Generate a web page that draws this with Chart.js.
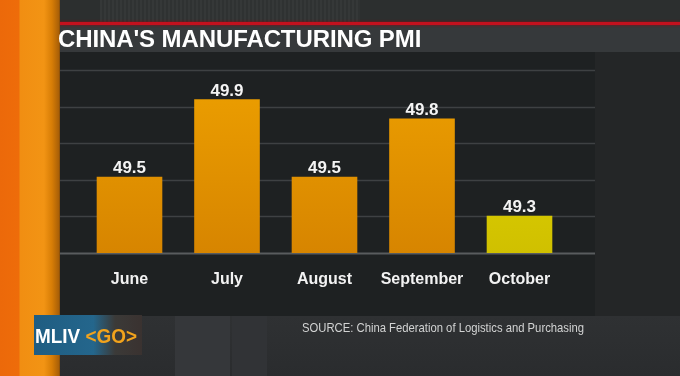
<!DOCTYPE html>
<html>
<head>
<meta charset="utf-8">
<script src="https://cdn.jsdelivr.net/npm/chart.js@4"></script>
<style>
  html, body { margin: 0; padding: 0; background: #2a2c2d; }
  #stage { position: relative; width: 680px; height: 376px; overflow: hidden; background: #262829; font-family: "Liberation Sans", Arial, sans-serif; }
  .blk { position: absolute; }
  #topband { left: 0; top: 0; width: 680px; height: 22px; background: #2c2f2f; }
  #texture { left: 100px; top: 0; width: 260px; height: 22px; background: repeating-linear-gradient(90deg, #353838 0 2px, #2f3232 2px 4px); }
  #redline { left: 54px; top: 22px; width: 626px; height: 3px; background: #c3111e; box-shadow: 0 0 3px #8a0a12; }
  #titleband { left: 54px; top: 25px; width: 626px; height: 27px; background: #36393b; }
  #panel { left: 60px; top: 52px; width: 535px; height: 264px; background: #1e2122; }
  #rightside { left: 595px; top: 52px; width: 85px; height: 264px; background: #242627; }
  #bottomband { left: 0; top: 316px; width: 680px; height: 60px; background: linear-gradient(180deg, #2f3133, #2a2c2e); }
  #stripe1 { left: 175px; top: 316px; width: 55px; height: 60px; background: #35373a; }
  #stripe2 { left: 232px; top: 316px; width: 35px; height: 60px; background: #313336; }
  #orange { left: 0; top: 0; width: 60px; height: 376px; background: linear-gradient(90deg, #ec690a 0, #ee6c0a 19px, #f18e12 20px, #f29414 44px, #d77d06 52px, #a85f08 59px, #7a4608 60px); }
  #title { left: 58px; top: 27px; font-size: 24px; line-height: 24px; font-weight: bold; color: #ffffff; white-space: nowrap; letter-spacing: -0.1px; }
  #source { left: 302px; top: 321px; font-size: 13px; line-height: 13px; color: #d2d3d3; white-space: nowrap; transform-origin: 0 0; }
  #logo { left: 34px; top: 315px; width: 108px; height: 40px; background: linear-gradient(90deg, #1f5d82 0, #24668c 55%, #3b3a38 75%, #3a3230 100%); }
  #logotext { left: 35px; top: 325px; font-weight: bold; font-size: 21px; line-height: 21px; color: #ffffff; white-space: nowrap; transform-origin: 0 0; }
  #logotext span { color: #f2a31c; }
  canvas { position: absolute; left: 0; top: 0; }
</style>
</head>
<body>
<div id="stage">
  <div class="blk" id="topband"></div>
  <div class="blk" id="texture"></div>
  <div class="blk" id="bottomband"></div>
  <div class="blk" id="stripe1"></div>
  <div class="blk" id="stripe2"></div>
  <div class="blk" id="rightside"></div>
  <div class="blk" id="panel"></div>
  <div class="blk" id="titleband"></div>
  <div class="blk" id="redline"></div>
  <div class="blk" id="orange"></div>
  <div class="blk" id="logo"></div>
  <canvas id="pmiChart" width="680" height="376"></canvas>
  <div class="blk" id="title">CHINA'S MANUFACTURING PMI</div>
  <div class="blk" id="source">SOURCE: China Federation of Logistics and Purchasing</div>
  <div class="blk" id="logotext">MLIV <span>&lt;GO&gt;</span></div>
</div>
<script>
// chart data
const months = ['June', 'July', 'August', 'September', 'October'];
const pmiValues = [49.5, 49.9, 49.5, 49.8, 49.3];
const axisMin = 49.108;
const axisMax = 50.05;
const gridSteps = 5;

// narrow fonts are not installed, so squeeze the broadcast captions
function squeeze(id, targetWidth) {
    const el = document.getElementById(id);
    const w = el.getBoundingClientRect().width;
    if (w > 0) el.style.transform = 'scaleX(' + (targetWidth / w) + ')';
}

document.addEventListener('DOMContentLoaded', function () {
    squeeze('source', 282);
    squeeze('logotext', 102);

    const ctx = document.getElementById('pmiChart').getContext('2d');
    const lastIndex = pmiValues.length - 1;

    function barFill(context) {
        const chart = context.chart;
        const area = chart.chartArea;
        const latest = context.dataIndex === lastIndex;
        if (!area) return latest ? '#d6cc00' : '#e49300';
        const g = chart.ctx.createLinearGradient(0, area.top, 0, area.bottom);
        if (latest) {
            g.addColorStop(0, '#e4dc00');
            g.addColorStop(1, '#d0c000');
        } else {
            g.addColorStop(0, '#eda000');
            g.addColorStop(1, '#d78500');
        }
        return g;
    }

    // gridlines run across the whole dark panel, wider than the bar area
    const panelGrid = {
        id: 'panelGrid',
        beforeDatasetsDraw(chart) {
            const y = chart.scales.y;
            const c = chart.ctx;
            c.save();
            y.ticks.forEach(function (t, i) {
                const py = Math.round(y.getPixelForValue(t.value)) + 0.5;
                const base = i === 0;
                c.strokeStyle = base ? '#595c5e' : '#3e4143';
                c.lineWidth = base ? 2 : 1.5;
                c.beginPath();
                c.moveTo(60, py);
                c.lineTo(595, py);
                c.stroke();
            });
            c.restore();
        },
        afterDatasetsDraw(chart) {
            const c = chart.ctx;
            const meta = chart.getDatasetMeta(0);
            c.save();
            c.fillStyle = '#f4f4f4';
            c.font = 'bold 17px "Liberation Sans", Arial, sans-serif';
            c.textAlign = 'center';
            c.textBaseline = 'alphabetic';
            meta.data.forEach(function (bar, i) {
                c.fillText(pmiValues[i].toFixed(1), bar.x, bar.y - 3.5);
            });
            c.restore();
        }
    };

    new Chart(ctx, {
        type: 'bar',
        data: {
            labels: months,
            datasets: [{
                label: "China's Manufacturing PMI",
                data: pmiValues,
                backgroundColor: barFill,
                borderWidth: 0,
                categoryPercentage: 1,
                barPercentage: 0.673
            }]
        },
        options: {
            responsive: false,
            animation: false,
            devicePixelRatio: 1,
            layout: {
                padding: { left: 80.75, right: 111.75, top: 70, bottom: 0 }
            },
            plugins: {
                legend: { display: false },
                tooltip: { enabled: false },
                title: { display: false }
            },
            scales: {
                x: {
                    grid: { display: false, drawTicks: false },
                    border: { display: false },
                    ticks: {
                        color: '#f2f2f2',
                        padding: 17,
                        font: { family: '"Liberation Sans", Arial, sans-serif', size: 16, weight: 'bold' }
                    },
                    afterFit: function (scale) { scale.height = 123; }
                },
                y: {
                    display: false,
                    min: axisMin,
                    max: axisMax,
                    afterBuildTicks: function (scale) {
                        const ticks = [];
                        for (let i = 0; i <= gridSteps; i++) {
                            ticks.push({ value: axisMin + i * (axisMax - axisMin) / gridSteps });
                        }
                        scale.ticks = ticks;
                    }
                }
            }
        },
        plugins: [panelGrid]
    });
});
</script>
</body>
</html>
